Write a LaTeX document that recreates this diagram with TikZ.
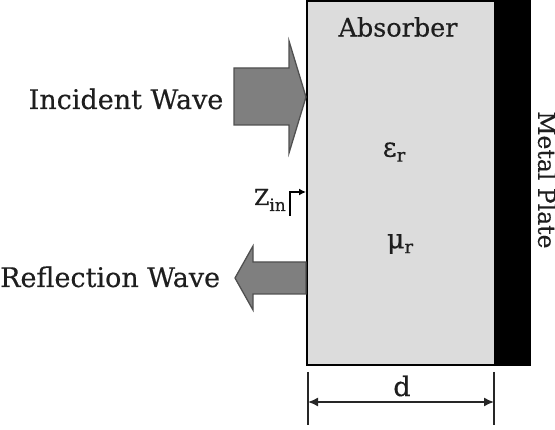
\documentclass[tikz,border=0pt]{standalone}
\usepackage{fontspec}
\setmainfont[FakeBold=0.4]{DejaVu Serif}
\usetikzlibrary{arrows.meta}
\definecolor{absgray}{HTML}{DCDCDC}
\definecolor{arrgray}{HTML}{7F7F7F}
\definecolor{arredge}{HTML}{505050}
\definecolor{txt}{HTML}{1E1E1E}
\tikzset{
  lbl/.style={font=\fontsize{25.5}{28}\selectfont, text=txt, inner sep=0pt},
  sidelbl/.style={lbl, font=\fontsize{27}{30}\selectfont},
  bigarrow/.style={fill=arrgray, draw=arredge, line width=1.3pt, line join=miter},
  dimline/.style={line width=1.5pt, draw=black!85},
}
\newcommand{\subr}{{\fontsize{18}{18}\selectfont\raisebox{-5pt}{r}}}
\begin{document}
\begin{tikzpicture}[x=1pt,y=-1pt]
\useasboundingbox (0,0) rectangle (555,430);
% metal plate
\fill[black] (494,0.5) rectangle (531,366);
% absorber
\fill[absgray] (307,1) rectangle (494,365);
\draw[line width=2.8pt] (494,1) -- (307,1) -- (307,365) -- (494,365);
% labels inside
\node[lbl] (abs) at (398,27) {Absorber};
\node[lbl, font=\fontsize{27}{30}\selectfont] (eps) at (394,152) {ε\subr};
\node[lbl, font=\fontsize{27}{30}\selectfont] (mu) at (400,244) {μ\subr};
% metal plate label
\node[lbl, font=\fontsize{23.5}{26}\selectfont, rotate=-90] (mp) at (547,180) {Metal Plate};
% incident wave
\draw[bigarrow] (234,68) -- (289,68) -- (289,41) -- (306,97) -- (289,153) -- (289,125) -- (234,125) -- cycle;
\node[sidelbl, anchor=base] (inc) at (126,109) {Incident Wave};
% reflection wave
\draw[bigarrow] (306,262) -- (253,262) -- (253,246) -- (235,278) -- (253,310) -- (253,294) -- (306,294) -- cycle;
\node[sidelbl, anchor=base west] (ref) at (0,287) {Reflection Wave};
% Z_in
\node[lbl, anchor=base east, font=\fontsize{22}{24}\selectfont] (zin) at (286,205) {Z{\fontsize{17}{17}\selectfont\raisebox{-6pt}{in}}};
\coordinate (zs) at (290,216);
\coordinate (ze) at (306,192);
\draw[line width=1.6pt, -{Latex[length=7pt,width=7pt]}] (zs) |- (ze);
% dimension d
\coordinate (dlt) at (308,372);
\coordinate (dlb) at (308,425);
\coordinate (drt) at (494,372);
\coordinate (drb) at (494,425);
\draw[dimline] (dlt) -- (dlb);
\draw[dimline] (drt) -- (drb);
\coordinate (al) at (308,402);
\coordinate (ar) at (494,402);
\draw[dimline, {Latex[length=10pt,width=9pt]}-{Latex[length=10pt,width=9pt]}] (al) -- (ar);
\node[lbl, font=\fontsize{27}{30}\selectfont] (d) at (402,386) {d};
\end{tikzpicture}
\end{document}
